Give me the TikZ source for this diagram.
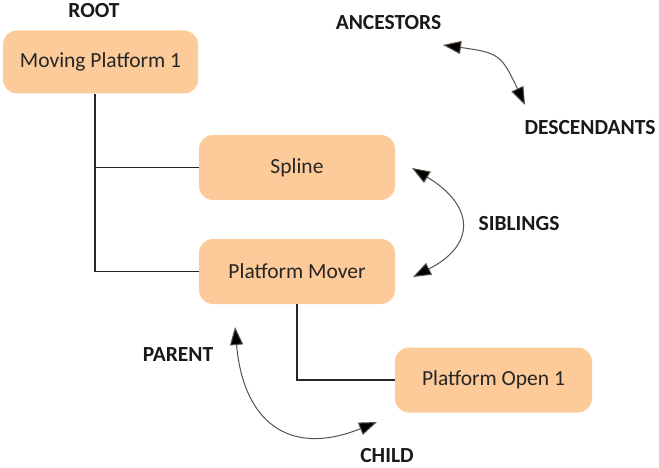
\documentclass[tikz,border=0pt]{standalone}
\usepackage{fontspec}
\setmainfont{Carlito}
\usetikzlibrary{arrows.meta}
\definecolor{boxfill}{HTML}{FDCB9A}
\definecolor{arrowcol}{HTML}{5A5048}
\tikzset{
  box/.style={draw=none, fill=boxfill, rounded corners=14pt, minimum width=196pt, minimum height=65pt, inner sep=0pt, font=\fontsize{21.5}{24}\selectfont, text=black!85},
  lbl/.style={font=\bfseries\fontsize{21.5}{24}\selectfont, inner sep=0pt, text=black!90},
  link/.style={draw=black!85, line width=1.4pt},
  rel/.style={draw=arrowcol, line width=1pt, {Triangle[length=18pt,width=13pt,fill=black]}-{Triangle[length=18pt,width=13pt,fill=black]}}
}
\begin{document}
\begin{tikzpicture}[x=1pt,y=-1pt]
\useasboundingbox (0,0) rectangle (659,468);
\node[box, minimum width=195pt, minimum height=63pt] (mp) at (100.5,62) {Moving Platform 1};
\node[box] (sp) at (297,167.5) {Spline};
\node[box] (pm) at (297,271.5) {Platform Mover};
\node[box, minimum width=197pt] (po) at (493.5,380) {Platform Open 1};

\node[lbl] (root) at (94,11) {ROOT};
\node[lbl] (anc) at (388.5,23) {ANCESTORS};
\node[lbl] (desc) at (590,128) {DESCENDANTS};
\node[lbl] (sib) at (519,224) {SIBLINGS};
\node[lbl] (par) at (178,355) {PARENT};
\node[lbl] (chi) at (387,456) {CHILD};

\coordinate (j1) at (95,167.5);
\coordinate (j2) at (95,271.5);
\coordinate (j3) at (297,380);
\draw[link] (mp.south -| j1) -- (j2) -- (pm.west);
\draw[link] (j1) -- (sp.west);
\draw[link] (pm.south) -- (j3) -- (po.west);

\coordinate (a1) at (443,45);
\coordinate (a2) at (525,105);
\coordinate (s1) at (412,168);
\coordinate (s2) at (413,277);
\coordinate (c1) at (235,327);
\coordinate (c2) at (377,422);
\draw[rel] (a1) to[out=-8,in=115,distance=56pt] (a2);
\draw[rel] (s1) to[out=-31,in=27,distance=72pt] (s2);
\draw[rel] (c1) to[out=-85,in=-158,distance=95pt] (c2);
\end{tikzpicture}
\end{document}
